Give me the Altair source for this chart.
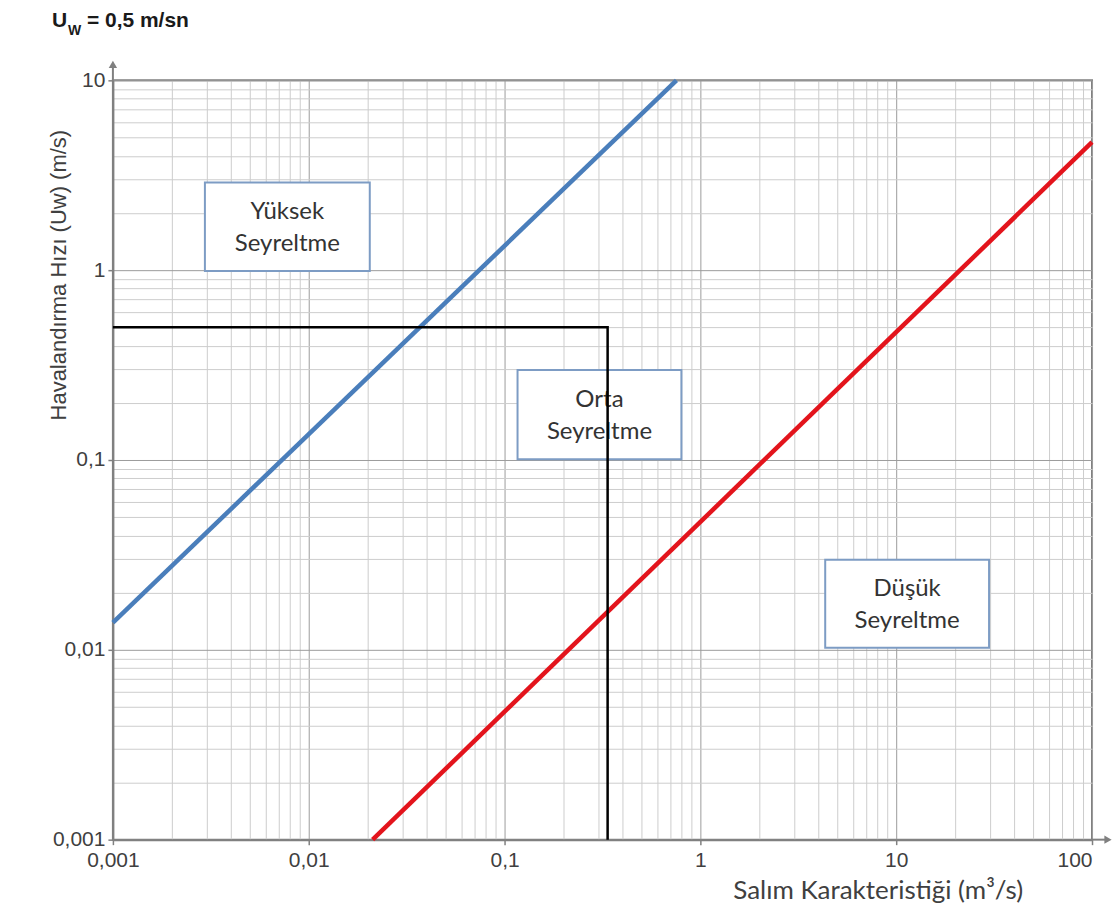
import math
import altair as alt
import pandas as pd

# ---- data ----
x_major = [0.001, 0.01, 0.1, 1, 10, 100]
x_major_labels = ["0,001", "0,01", "0,1", "1", "10", "100"]
y_major = [0.001, 0.01, 0.1, 1, 10]
y_major_labels = ["0,001", "0,01", "0,1", "1", "10"]

blue_S = [0.001, 0.755]
blue_U = [0.0139, 10]
red_S = [0.0212, 100]
red_U = [0.001, 4.72]
black_S = [0.001, 0.336, 0.336]
black_U = [0.5, 0.5, 0.001]

box_labels = ["Yüksek\nSeyreltme", "Orta\nSeyreltme", "Düşük\nSeyreltme"]
box_S1 = [0.00295, 0.1165, 4.34]
box_S2 = [0.0205, 0.80, 29.8]
box_U1 = [0.99, 0.101, 0.01025]
box_U2 = [2.9, 0.298, 0.0298]


def log_ticks(majors):
    vals = []
    for v in majors[:-1]:
        for m in range(1, 10):
            vals.append(float(f"{m * v:.6g}"))
    vals.append(majors[-1])
    return vals


def label_expr(vals, labels):
    expr = "''"
    for v, l in reversed(list(zip(vals, labels))):
        expr = f"abs(datum.value - {v}) < {v * 1e-6} ? '{l}' : " + expr
    return expr


major_test = "abs(log(datum.value)/LN10 - round(log(datum.value)/LN10)) < 0.000001"
grid_color = {"condition": {"test": major_test, "value": "#9c9c9c"}, "value": "#cdcdcd"}
tick_op = {"condition": {"test": major_test, "value": 1}, "value": 0}

common_axis = dict(
    grid=True, gridColor=grid_color, gridWidth=1, tickOpacity=tick_op,
    tickColor="#808080", tickSize=5, tickWidth=1.5, domainColor="#808080", domainWidth=2,
    labelFont="Liberation Sans", labelFontSize=21, labelColor="#404040",
    labelOverlap=False, labelBound=False, title=None,
)

x_axis = alt.Axis(values=log_ticks(x_major), labelExpr=label_expr(x_major, x_major_labels),
                  labelPadding=5,
                  labelAlign={"condition": {"test": "datum.value >= 99", "value": "right"},
                              "value": "center"},
                  **common_axis)
y_axis = alt.Axis(values=log_ticks(y_major), labelExpr=label_expr(y_major, y_major_labels),
                  labelPadding=3, **common_axis)

xs = alt.Scale(type="log", domain=[x_major[0], x_major[-1]], nice=False)
ys = alt.Scale(type="log", domain=[y_major[0], y_major[-1]], nice=False)


def X(field="S"):
    return alt.X(f"{field}:Q", scale=xs, axis=x_axis)


def Y(field="U"):
    return alt.Y(f"{field}:Q", scale=ys, axis=y_axis)


blue_df = pd.DataFrame({"S": blue_S, "U": blue_U, "o": range(len(blue_S))})
red_df = pd.DataFrame({"S": red_S, "U": red_U, "o": range(len(red_S))})
black_df = pd.DataFrame({"S": black_S, "U": black_U, "o": range(len(black_S))})
box_df = pd.DataFrame({"label": box_labels, "S": box_S1, "S2": box_S2, "U": box_U1, "U2": box_U2})
box_df["Sc"] = [math.sqrt(a * b) for a, b in zip(box_S1, box_S2)]
box_df["Uc"] = [math.sqrt(a * b) for a, b in zip(box_U1, box_U2)]
dummy = pd.DataFrame({"a": [0]})

boxes = alt.Chart(box_df).mark_rect(fill="white", stroke="#7d9cc4", strokeWidth=2).encode(
    x=X("S"), x2="S2:Q", y=Y("U"), y2="U2:Q")
box_text = alt.Chart(box_df).mark_text(
    lineBreak="\n", font="Lato", fontSize=24, lineHeight=32, dy=-15, color="#333333",
    align="center", baseline="middle").encode(x=X("Sc"), y=Y("Uc"), text="label:N")

blue = alt.Chart(blue_df).mark_line(color="#4a7ebb", strokeWidth=4.5).encode(x=X(), y=Y(), order="o:Q")
red = alt.Chart(red_df).mark_line(color="#e3141c", strokeWidth=4.5).encode(x=X(), y=Y(), order="o:Q")
black = alt.Chart(black_df).mark_line(color="#000000", strokeWidth=2.5).encode(x=X(), y=Y(), order="o:Q")

# axis arrows
y_arrow_line = alt.Chart(dummy).mark_rule(color="#808080", strokeWidth=2).encode(
    x=alt.value(0), y=alt.value(0), y2=alt.value(-14))
y_arrow_head = alt.Chart(dummy).mark_point(shape="triangle-up", filled=True, color="#808080",
                                           opacity=1, size=70).encode(x=alt.value(0), y=alt.value(-16))
x_arrow_line = alt.Chart(dummy).mark_rule(color="#808080", strokeWidth=2).encode(
    x=alt.value(980), x2=alt.value(994), y=alt.value(760))
x_arrow_head = alt.Chart(dummy).mark_point(shape="triangle-right", filled=True, color="#808080",
                                           opacity=1, size=70).encode(x=alt.value(996), y=alt.value(760))

# titles
t_U = alt.Chart(dummy).mark_text(text="U", font="Liberation Sans", fontWeight="bold", fontSize=21,
                                 color="#1a1a1a", align="left", baseline="alphabetic").encode(
    x=alt.value(-61), y=alt.value(-53))
t_W = alt.Chart(dummy).mark_text(text="W", font="Liberation Sans", fontWeight="bold", fontSize=14,
                                 color="#1a1a1a", align="left", baseline="alphabetic").encode(
    x=alt.value(-45), y=alt.value(-45))
t_rest = alt.Chart(dummy).mark_text(text="= 0,5 m/sn", font="Liberation Sans", fontWeight="bold",
                                    fontSize=21, color="#1a1a1a", align="left",
                                    baseline="alphabetic").encode(x=alt.value(-26), y=alt.value(-53))
y_title = alt.Chart(dummy).mark_text(text="Havalandırma Hızı (Uw) (m/s)", font="Liberation Sans",
                                     fontSize=22, color="#404040", angle=270, align="center",
                                     baseline="middle").encode(x=alt.value(-54), y=alt.value(195))
x_title = alt.Chart(dummy).mark_text(text="Salım Karakteristiği  (m³/s)", font="Lato", fontSize=26,
                                     color="#404040", align="center", baseline="alphabetic").encode(
    x=alt.value(766), y=alt.value(819))

chart = alt.layer(
    boxes, box_text, blue, red, black,
    y_arrow_line, y_arrow_head, x_arrow_line, x_arrow_head,
    t_U, t_W, t_rest, y_title, x_title,
).properties(
    width=980, height=760,
    autosize=alt.AutoSizeParams(type="none"),
    padding={"left": 105, "top": 72, "right": 20, "bottom": 70},
).configure_view(stroke="#808080", strokeWidth=2)

chart.save("out.html", embed_options={"renderer": "svg", "actions": False})
